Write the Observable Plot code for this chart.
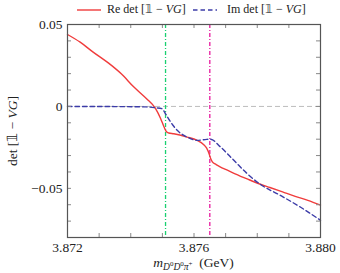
<!DOCTYPE html>
<html><head><meta charset="utf-8">
<script src="https://cdn.jsdelivr.net/npm/d3@7"></script>
<script src="https://cdn.jsdelivr.net/npm/@observablehq/plot@0.6"></script>
<style>
body{margin:0;background:#fff;font-family:"Liberation Serif",serif;color:#222;}
#wrap{width:340px;height:273px;position:relative;overflow:hidden;}
#legend{height:20px;position:relative;font-size:12px;}
#legend .sw{position:absolute;top:5px;}
#legend .tx{position:absolute;top:2px;white-space:nowrap;line-height:14px;}
#chart{height:253px;}
#chart svg text{font-family:"Liberation Serif",serif;}
#xlabel{position:absolute;left:67px;width:253px;top:256px;text-align:center;font-size:13.5px;white-space:nowrap;line-height:13px;}
.sub{font-size:9.5px;position:relative;top:3px;}
.sup{font-size:7px;position:relative;top:-4px;}
</style></head><body>
<div id="wrap">
  <div id="legend">
    <svg class="sw" style="left:77px" width="24" height="10"><line x1="0" y1="5" x2="24" y2="5" stroke="#f03c3c" stroke-width="1.4"/></svg>
    <span class="tx" style="left:107px">Re det [𝟙 − <i>VG</i>]</span>
    <svg class="sw" style="left:193px" width="24" height="10"><line x1="0" y1="5" x2="24" y2="5" stroke="#3c3ca8" stroke-width="1.4" stroke-dasharray="4.5,3"/></svg>
    <span class="tx" style="left:227px">Im det [𝟙 − <i>VG</i>]</span>
  </div>
  <div id="chart"></div>
  <div id="xlabel"><i>m</i><span class="sub"><i>D</i><span class="sup">0</span><i>D</i><span class="sup">0</span><i>π</i><span class="sup">+</span></span>&nbsp; (GeV)</div>
</div>
<script>
const massRe = [3.8720,3.8724,3.8728,3.8733,3.8737,3.8741,3.8745,3.87478,3.87494,3.87505,3.87513,3.8752,3.87536,3.87578,3.8761,3.8763,3.8764,3.87648,3.87652,3.87658,3.8767,3.87684,3.8770,3.8773,3.8777,3.8781,3.8784,3.8788,3.8792,3.8796,3.8800];
const reDet = [0.0439,0.0392,0.0333,0.0264,0.0199,0.0118,0.0047,-0.0012,-0.0072,-0.0124,-0.0155,-0.0162,-0.0167,-0.0187,-0.0207,-0.0232,-0.0255,-0.0290,-0.0315,-0.0338,-0.0355,-0.0370,-0.0384,-0.0411,-0.0444,-0.0475,-0.0495,-0.0522,-0.0549,-0.0573,-0.0602];
const massIm = [3.8720,3.8735,3.8745,3.87478,3.87499,3.8751,3.87526,3.87547,3.87578,3.8761,3.8764,3.87652,3.87684,3.87726,3.87768,3.8781,3.87873,3.87936,3.8800];
const imDet = [0,-0.0001,-0.0003,-0.0008,-0.0014,-0.0045,-0.0095,-0.0146,-0.0187,-0.0207,-0.0201,-0.0200,-0.0248,-0.0329,-0.0410,-0.0476,-0.0543,-0.0614,-0.0695];
const thresholdA = [3.8751];
const thresholdB = [3.8765];
const xTicks = [3.872, 3.876, 3.880];
const yTicks = [-0.05, 0, 0.05];
const xMinor = [3.872,3.873,3.874,3.875,3.876,3.877,3.878,3.879,3.880];
const yMinor = [-0.08,-0.07,-0.06,-0.05,-0.04,-0.03,-0.02,-0.01,0,0.01,0.02,0.03,0.04,0.05];

const reData = massRe.map((m,i)=>({m, v: reDet[i]}));
const imData = massIm.map((m,i)=>({m, v: imDet[i]}));

const tickLen = 4, plotW = 253, plotH = 213;
const serif = "'Liberation Serif', serif";
const chart = Plot.plot({
  width: 340, height: 253,
  marginTop: 4, marginLeft: 67, marginRight: 20, marginBottom: 36,
  style: {fontFamily: serif, fontSize: "13px", color: "#222", background: "transparent", overflow: "visible"},
  x: {domain: [3.872, 3.880]},
  y: {domain: [-0.08, 0.05]},
  marks: [
    Plot.ruleY([0], {stroke: "#bdbdbd", strokeDasharray: "5,3", strokeWidth: 1}),
    Plot.ruleX(thresholdA, {x: d=>d, stroke: "#19d070", strokeDasharray: "4,2,1,2", strokeWidth: 1.3}),
    Plot.ruleX(thresholdB, {x: d=>d, stroke: "#e8189e", strokeDasharray: "4,2,1,2", strokeWidth: 1.3}),
    Plot.line(reData, {x: "m", y: "v", stroke: "#f03c3c", strokeWidth: 1.4, curve: "monotone-x"}),
    Plot.line(imData, {x: "m", y: "v", stroke: "#3c3ca8", strokeWidth: 1.4, strokeDasharray: "4.5,3", curve: "monotone-x"}),
    Plot.tickX(xMinor, {x: d=>d, insetTop: plotH - tickLen, stroke: "#888"}),
    Plot.tickX(xMinor, {x: d=>d, insetBottom: plotH - tickLen, stroke: "#888"}),
    Plot.tickY(yMinor, {y: d=>d, insetRight: plotW - tickLen, stroke: "#888"}),
    Plot.tickY(yMinor, {y: d=>d, insetLeft: plotW - tickLen, stroke: "#888"}),
    Plot.frame({stroke: "#555", strokeWidth: 1.2}),
    Plot.axisX(xTicks, {tickSize: 0, tickPadding: 5, tickFormat: d3.format(".3f"), label: null, fontSize: 13.5, fontFamily: serif}),
    Plot.axisY(yTicks, {tickSize: 0, tickPadding: 5, tickFormat: d => d === 0 ? "0" : d3.format(".2f")(d), label: "det [𝟙 − VG]", labelAnchor: "center", labelArrow: "none", labelOffset: 60, fontSize: 13.5, fontFamily: serif})
  ]
});
document.getElementById("chart").appendChild(chart);
const lab = chart.querySelector('g[aria-label="y-axis label"] text');
if (lab) {
  lab.textContent = "";
  lab.appendChild(document.createTextNode("det [𝟙 − "));
  const ts = document.createElementNS("http://www.w3.org/2000/svg", "tspan");
  ts.setAttribute("font-style", "italic");
  ts.textContent = "VG";
  lab.appendChild(ts);
  lab.appendChild(document.createTextNode("]"));
}
</script>
</body></html>
